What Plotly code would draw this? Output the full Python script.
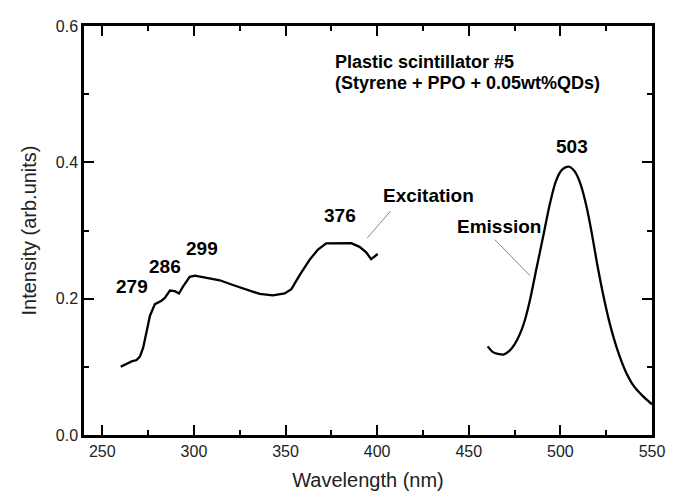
import plotly.graph_objects as go

# Excitation spectrum (wavelength nm, intensity arb. units)
ex_wavelength = [260, 263, 266, 268.7, 270.5, 272.3, 274.2, 276, 278.7, 282.3, 284.1, 286.9,
                 289.6, 291.8, 294.1, 297.7, 300.5, 306.8, 314.1, 321.3, 328.6, 335.9, 343.1,
                 349.5, 353.2, 357.7, 363.1, 367.7, 372.2, 377.7, 385.8, 390.4, 394, 396.7, 400.3]
ex_intensity = [0.100, 0.104, 0.108, 0.110, 0.115, 0.128, 0.152, 0.175, 0.192, 0.197, 0.201, 0.212,
                0.211, 0.2076, 0.218, 0.232, 0.2337, 0.231, 0.2270, 0.220, 0.213, 0.207, 0.2047,
                0.2076, 0.214, 0.2346, 0.257, 0.272, 0.281, 0.2815, 0.2815, 0.276, 0.268, 0.258, 0.2655]

# Emission spectrum
em_wavelength = [460.3, 463, 466.6, 469, 472, 475, 478.5, 481, 483.5, 487, 490.5, 494, 497.5,
                 500.5, 503, 505, 508, 511, 514, 517, 520, 523.5, 527, 531, 535.5, 540, 545, 550]
em_intensity = [0.130, 0.122, 0.1185, 0.118, 0.123, 0.133, 0.152, 0.172, 0.199, 0.245, 0.290,
                0.336, 0.372, 0.388, 0.393, 0.3935, 0.386, 0.368, 0.338, 0.298, 0.252, 0.204,
                0.163, 0.126, 0.094, 0.072, 0.057, 0.045]

# Peak labels
peak_labels = ["279", "286", "299", "376", "503"]
peak_label_x = [266.2, 284.1, 304.6, 379.6, 506.1]
peak_label_y = [0.2175, 0.2478, 0.273, 0.3223, 0.4227]

# Curve name labels and leader lines
curve_labels = ["Excitation", "Emission"]
curve_label_x = [428.0, 466.6]
curve_label_y = [0.3516, 0.3057]
leader_x0 = [407.3, 464.2]
leader_y0 = [0.3285, 0.2865]
leader_x1 = [394.6, 483.4]
leader_y1 = [0.2891, 0.2339]

title_lines = ["Plastic scintillator #5", "(Styrene + PPO + 0.05wt%QDs)"]
title_x = 375.7
title_y = [0.5474, 0.5161]

FONT = "Liberation Sans, Arial, sans-serif"

fig = go.Figure()
fig.add_trace(go.Scatter(x=ex_wavelength, y=ex_intensity, mode="lines",
                         line=dict(color="black", width=2.3), showlegend=False))
fig.add_trace(go.Scatter(x=em_wavelength, y=em_intensity, mode="lines",
                         line=dict(color="black", width=2.3, shape="spline", smoothing=0.6),
                         showlegend=False))

for t, x, y in zip(peak_labels, peak_label_x, peak_label_y):
    fig.add_annotation(x=x, y=y, text=f"<b>{t}</b>", showarrow=False,
                       font=dict(family=FONT, size=19, color="black"))

for t, x, y in zip(curve_labels, curve_label_x, curve_label_y):
    fig.add_annotation(x=x, y=y, text=f"<b>{t}</b>", showarrow=False,
                       font=dict(family=FONT, size=19, color="black"))

for x0, y0, x1, y1 in zip(leader_x0, leader_y0, leader_x1, leader_y1):
    fig.add_shape(type="line", x0=x0, y0=y0, x1=x1, y1=y1,
                  line=dict(color="#888888", width=1))

for t, y in zip(title_lines, title_y):
    fig.add_annotation(x=title_x, y=y, text=f"<b>{t}</b>", showarrow=False,
                       xanchor="left", font=dict(family=FONT, size=18, color="black"))

axis_common = dict(showline=True, linecolor="black", linewidth=2.5, mirror="allticks",
                   ticks="inside", ticklen=10, tickwidth=2, tickcolor="black",
                   showgrid=False, zeroline=False,
                   tickfont=dict(family=FONT, size=16, color="#222222"))

fig.update_xaxes(range=[240, 550], dtick=50, tick0=250,
                 minor=dict(ticks="inside", ticklen=5, dtick=25, tickwidth=2, tickcolor="black"),
                 title=dict(text="Wavelength (nm)", standoff=15,
                            font=dict(family=FONT, size=20, color="#222222")),
                 **axis_common)
fig.update_yaxes(range=[0, 0.6], dtick=0.2, tickformat=".1f",
                 minor=dict(ticks="inside", ticklen=5, dtick=0.1, tickwidth=2, tickcolor="black"),
                 title=dict(text="Intensity (arb.units)", standoff=14,
                            font=dict(family=FONT, size=20, color="#222222")),
                 **axis_common)

# page body has an 8px default margin, so the figure is offset by 8px
fig.update_layout(width=672, height=491, margin=dict(l=76, r=28, t=10, b=59),
                  plot_bgcolor="white", paper_bgcolor="white")

fig.write_html("out.html")
